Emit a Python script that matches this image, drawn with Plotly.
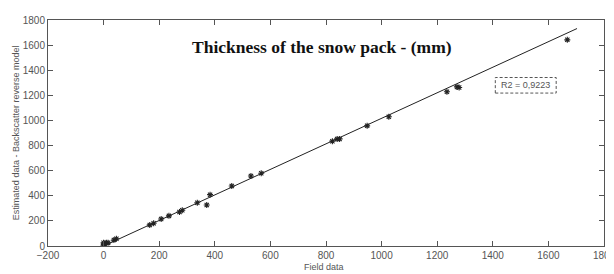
import plotly.graph_objects as go

field = [0, 0, 2, 0, 10, 16, 37, 46, 166, 180, 207, 235, 273, 283, 337, 371, 383,
         461, 530, 567, 823, 840, 849, 948, 1026, 1235, 1271, 1279, 1668]
estimated = [0, 8, 15, 25, 26, 25, 47, 58, 168, 181, 215, 240, 271, 285, 344, 326, 409,
             478, 558, 579, 835, 853, 853, 957, 1029, 1228, 1267, 1262, 1642]
fit_x = [0, 1703]
fit_y = [0, 1732]
x_ticks = list(range(-200, 1801, 200))
y_ticks = list(range(0, 1801, 200))
title_text = "Thickness of the snow pack - (mm)"
r2_text = "R2 = 0,9223"

tick_font = dict(family="Liberation Sans Narrow, Arial Narrow, Liberation Sans, Arial", size=10, color="#555555")
small_font = dict(family="Liberation Sans Narrow, Arial Narrow, Liberation Sans, Arial", size=9, color="#555555")

fig = go.Figure()
fig.add_trace(go.Scatter(x=fit_x, y=fit_y, mode="lines",
                         line=dict(color="#222222", width=1), hoverinfo="skip"))
fig.add_trace(go.Scatter(x=field, y=estimated, mode="markers",
                         marker=dict(symbol="asterisk-open", size=5, color="#222222",
                                     line=dict(width=1.1, color="#222222"))))

axis_common = dict(showgrid=False, zeroline=False, showline=True, linecolor="#555555",
                   linewidth=1, mirror="ticks", ticks="inside", ticklen=5,
                   tickcolor="#555555", tickfont=tick_font)
fig.update_xaxes(range=[-200, 1800], tickvals=x_ticks, **axis_common)
fig.update_yaxes(range=[0, 1800], tickvals=y_ticks, **axis_common)

# page body has an 8px margin, so the figure is offset by 8px; margins compensate
fig.update_layout(
    width=614, height=274, showlegend=False,
    margin=dict(l=40, r=16, t=6, b=36),
    plot_bgcolor="white", paper_bgcolor="white",
    annotations=[
        dict(text="<b>" + title_text + "</b>", xref="paper", yref="paper",
             x=0.493, y=0.879, xanchor="center", yanchor="middle", showarrow=False,
             font=dict(family="Liberation Serif, Times New Roman, serif", size=17.5, color="#111111")),
        dict(text=r2_text, x=1518, y=1280, xanchor="center", yanchor="middle",
             showarrow=False, font=small_font),
        dict(text="Field data", xref="paper", yref="paper", x=0.497, y=-0.095,
             xanchor="center", yanchor="middle", showarrow=False, font=small_font),
        dict(text="Estimated data - Backscatter reverse model", xref="paper", yref="paper",
             x=-0.0573, y=0.5, xanchor="center", yanchor="middle", showarrow=False,
             textangle=-90, font=small_font),
    ],
)
fig.add_shape(type="rect", x0=1409, x1=1628, y0=1218, y1=1342, xref="x", yref="y",
              line=dict(color="#555555", width=1, dash="3px,2px"))
fig.write_html("out.html")
